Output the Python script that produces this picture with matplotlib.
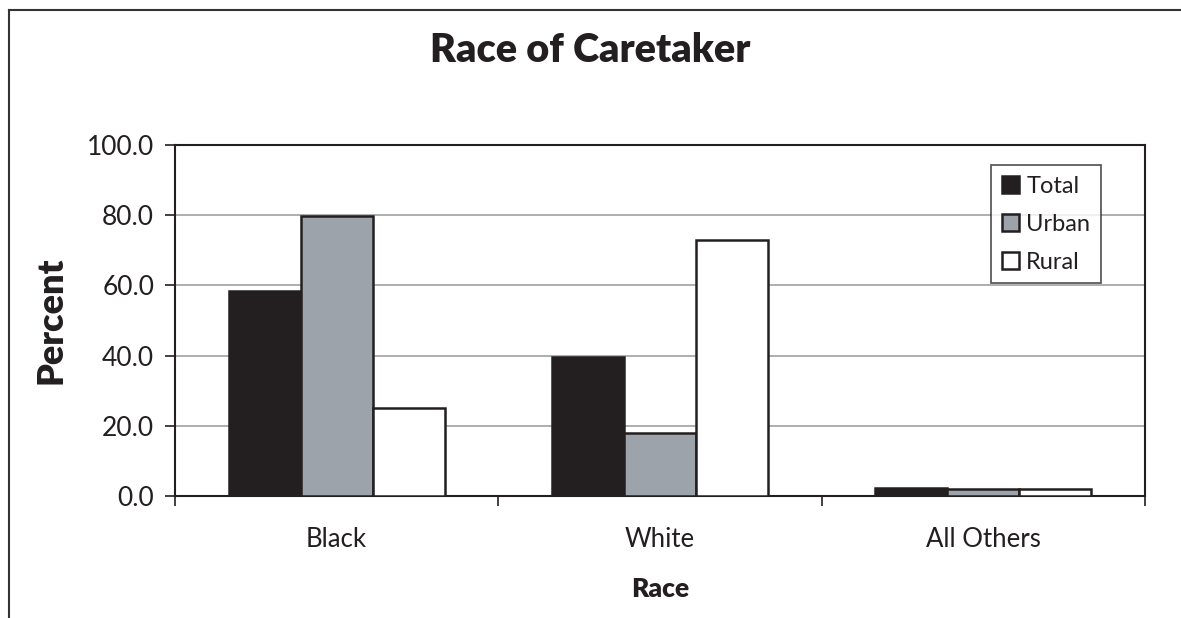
import matplotlib
matplotlib.use('Agg')
import matplotlib.pyplot as plt
import numpy as np
from matplotlib.lines import Line2D

categories = ['Black', 'White', 'All Others']
series = ['Total', 'Urban', 'Rural']
total = [58.4, 39.6, 2.4]
urban = [79.8, 18.0, 2.1]
rural = [25.2, 73.0, 1.9]
yticks = [0, 20, 40, 60, 80, 100]

plt.rcParams['font.family'] = ['Lato', 'DejaVu Sans']

fig = plt.figure(figsize=(11.81, 6.18), dpi=100)
ax = fig.add_axes([175 / 1181, 1 - 496 / 618, 970 / 1181, 351 / 618])

x = np.arange(len(categories))
w = 0.223
styles = [
    dict(color='#231f20', edgecolor='#231f20'),
    dict(color='#9ca3aa', edgecolor='#231f20'),
    dict(color='white', edgecolor='#231f20'),
]
for i, (name, vals) in enumerate(zip(series, [total, urban, rural])):
    ax.bar(x + (i - 1) * w, vals, w, label=name, linewidth=1.8, zorder=3, **styles[i])

ax.set_xlim(-0.5, 2.5)
ax.set_ylim(0, 100)
ax.set_yticks(yticks)
ax.set_yticklabels(['%.1f' % v for v in yticks], fontsize=19, color='#231f20')
ax.set_xticks(x)
ax.set_xticklabels(categories, fontsize=18.5, color='#231f20')
ax.set_xticks([-0.5, 0.5, 1.5, 2.5], minor=True)
ax.tick_params(axis='x', which='major', length=0, pad=22)
ax.tick_params(axis='x', which='minor', length=7, width=1.2, color='#231f20')
ax.tick_params(axis='y', length=7, width=1.2, color='#231f20', pad=8)
ax.grid(axis='y', color='#999999', linewidth=1.1, zorder=0)
for s in ax.spines.values():
    s.set_color('#231f20')
    s.set_linewidth(1.5)

ax.set_ylabel('Percent', fontsize=26, fontweight='heavy', labelpad=14, color='#231f20')
ax.set_xlabel('Race', fontsize=19, fontweight='heavy', labelpad=18, color='#231f20')
fig.text(590 / 1181, 1 - 50 / 618, 'Race of Caretaker', ha='center', va='center',
         fontsize=28.5, fontweight='heavy', color='#231f20')

leg = ax.legend(loc='upper right', bbox_to_anchor=(1101 / 1181, 1 - 165 / 618),
                bbox_transform=fig.transFigure, fontsize=17, frameon=True,
                fancybox=False, handlelength=0.75, handleheight=0.75, handletextpad=0.3,
                labelspacing=0.72, borderpad=0.45, borderaxespad=0)
leg.get_frame().set_edgecolor('#231f20')
leg.get_frame().set_linewidth(1.2)
for t in leg.get_texts():
    t.set_color('#231f20')

# outer chart frame (cut off on the right and bottom)
fig.add_artist(Line2D([9 / 1181, 9 / 1181], [0, 1 - 10 / 618], transform=fig.transFigure,
                      color='#333333', linewidth=1.5))
fig.add_artist(Line2D([9 / 1181, 1], [1 - 10 / 618, 1 - 10 / 618], transform=fig.transFigure,
                      color='#333333', linewidth=1.5))

fig.savefig('out.png', dpi=100)
